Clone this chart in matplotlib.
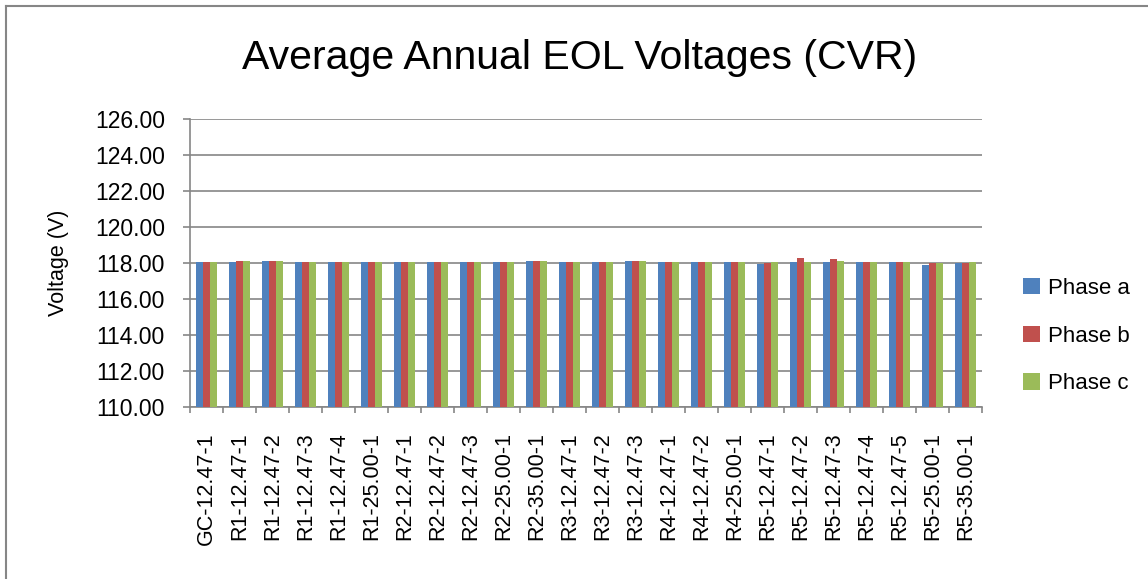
import matplotlib
matplotlib.use("Agg")
import matplotlib.pyplot as plt
from matplotlib.lines import Line2D
import numpy as np

categories = ["GC-12.47-1", "R1-12.47-1", "R1-12.47-2", "R1-12.47-3", "R1-12.47-4",
              "R1-25.00-1", "R2-12.47-1", "R2-12.47-2", "R2-12.47-3", "R2-25.00-1",
              "R2-35.00-1", "R3-12.47-1", "R3-12.47-2", "R3-12.47-3", "R4-12.47-1",
              "R4-12.47-2", "R4-25.00-1", "R5-12.47-1", "R5-12.47-2", "R5-12.47-3",
              "R5-12.47-4", "R5-12.47-5", "R5-25.00-1", "R5-35.00-1"]
phase_a = [118.04, 118.05, 118.08, 118.04, 118.04, 118.04, 118.04, 118.04, 118.04, 118.04,
           118.10, 118.04, 118.04, 118.09, 118.04, 118.04, 118.04, 117.96, 118.05, 118.05,
           118.04, 118.04, 117.90, 118.02]
phase_b = [118.04, 118.09, 118.11, 118.04, 118.04, 118.04, 118.04, 118.04, 118.04, 118.04,
           118.10, 118.04, 118.04, 118.08, 118.04, 118.04, 118.04, 118.02, 118.27, 118.22,
           118.04, 118.04, 117.98, 118.02]
phase_c = [118.04, 118.08, 118.08, 118.04, 118.04, 118.04, 118.04, 118.04, 118.04, 118.04,
           118.10, 118.04, 118.04, 118.08, 118.04, 118.04, 118.04, 118.03, 118.05, 118.12,
           118.04, 118.04, 117.98, 118.03]
series_names = ["Phase a", "Phase b", "Phase c"]
y_ticks = [110, 112, 114, 116, 118, 120, 122, 124, 126]

colors = ["#4F81BD", "#C0504D", "#9BBB59"]
grid_c = "#868686"
font = ["Liberation Sans", "DejaVu Sans"]
plt.rcParams["font.family"] = font

W, H = 1148, 579
fig = plt.figure(figsize=(W / 100, H / 100), dpi=100)
# chart border (only left and top edges visible in the reference)
fig.add_artist(Line2D([5.5 / W, 5.5 / W], [0, 1 - 6 / H], transform=fig.transFigure,
                      color=grid_c, linewidth=1.5))
fig.add_artist(Line2D([5.5 / W, 1], [1 - 6 / H, 1 - 6 / H], transform=fig.transFigure,
                      color=grid_c, linewidth=1.5))

left, right, top, bottom = 190, 982, 119.3, 406.5
ax = fig.add_axes([left / W, 1 - bottom / H, (right - left) / W, (bottom - top) / H])

x = np.arange(len(categories))
w = 0.205
for i, (vals, name) in enumerate(zip([phase_a, phase_b, phase_c], series_names)):
    ax.bar(x + (i - 1) * w, np.array(vals) - 110, bottom=110, width=w,
           color=colors[i], label=name, zorder=3)

ax.set_ylim(110, 126)
ax.set_xlim(-0.5, len(categories) - 0.5)
ax.set_yticks(y_ticks)
ax.set_yticklabels([f"{v:.2f}" for v in y_ticks], fontsize=16.5)
ax.yaxis.grid(True, color=grid_c, linewidth=1.2, zorder=0)
ax.set_xticks(x)
ax.set_xticklabels(categories, rotation=90, fontsize=15.5)
ax.tick_params(axis="x", length=0, pad=18.5)
ax.set_xticks(np.arange(-0.5, len(categories)), minor=True)
ax.tick_params(axis="x", which="minor", length=4.5, color=grid_c, width=1.2)
ax.tick_params(axis="y", length=5, color=grid_c, width=1.2, pad=13)
for s in ["top", "right"]:
    ax.spines[s].set_visible(False)
for s in ["left", "bottom"]:
    ax.spines[s].set_color(grid_c)
    ax.spines[s].set_linewidth(1.2)
ax.set_ylabel("Voltage (V)", fontsize=15.5, labelpad=19)

fig.text(580 / W, 1 - 69.3 / H, "Average Annual EOL Voltages (CVR)", ha="center",
         va="baseline", fontsize=29.5)

leg = ax.legend(loc="center left", bbox_to_anchor=(1.041, (bottom - 336) / (bottom - top)),
                frameon=False, fontsize=16, handlelength=0.75, handleheight=0.75,
                labelspacing=1.2, handletextpad=0.35, borderaxespad=0)

fig.savefig("out.png", dpi=100)
